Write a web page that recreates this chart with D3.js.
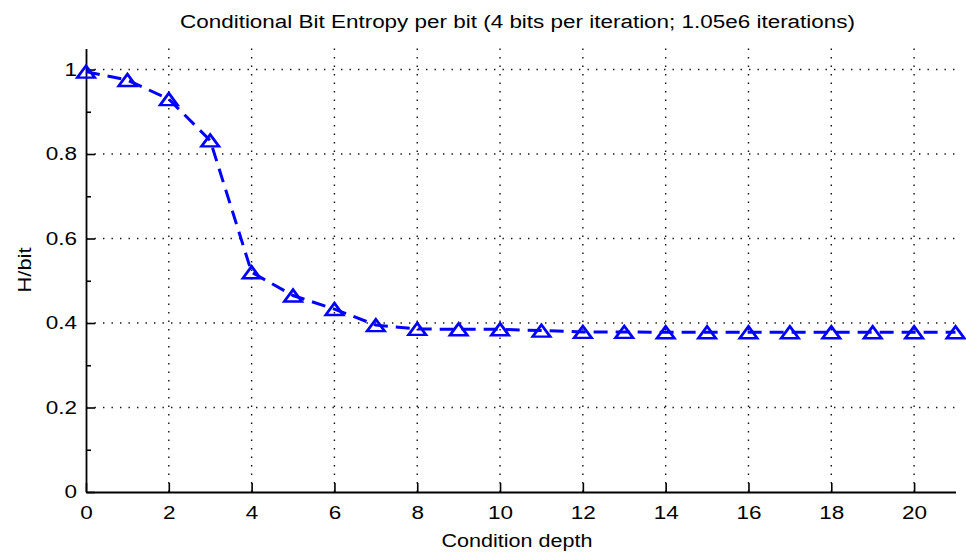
<!DOCTYPE html>
<html>
<head>
<meta charset="utf-8">
<script src="https://cdn.jsdelivr.net/npm/d3@7"></script>
<style>
  html, body { margin: 0; padding: 0; background: #fff; }
  svg { display: block; }
  text { font-family: "Liberation Sans", Arial, Helvetica, sans-serif; fill: #000; }
</style>
</head>
<body>
<svg id="chart" width="966" height="552"></svg>
<script>
// ---- data ----
const depths = [0,1,2,3,4,5,6,7,8,9,10,11,12,13,14,15,16,17,18,19,20,21];
const entropy = [0.995,0.975,0.93,0.832,0.52,0.465,0.433,0.395,0.386,0.385,0.385,0.382,0.379,0.379,0.378,0.378,0.378,0.378,0.378,0.378,0.378,0.378];
const xTicks = [0,2,4,6,8,10,12,14,16,18,20];
const yTicks = [0,0.2,0.4,0.6,0.8,1];
const yMinorTicks = [0.1,0.3,0.5,0.7,0.9];
const titleText = "Conditional Bit Entropy per bit (4 bits per iteration; 1.05e6 iterations)";
const xLabel = "Condition depth";
const yLabel = "H/bit";

// ---- layout ----
const svg = d3.select("#chart");
const mLeft = 86, mRight = 955.5, mBottom = 492, mTop = 48.4;
const x = d3.scaleLinear().domain([0, 21]).range([mLeft, mRight]);
const y = d3.scaleLinear().domain([0, 1.05]).range([mBottom, mTop]);
const textColor = "#1a1a1a";

// grid
const grid = svg.append("g").attr("stroke", "#111").attr("stroke-width", 1.4)
  .attr("stroke-dasharray", "1.4,7.1");
grid.selectAll("line.v").data(xTicks.filter(d => d > 0)).join("line")
  .attr("x1", d => x(d)).attr("x2", d => x(d))
  .attr("y1", mBottom).attr("y2", mTop);
grid.selectAll("line.h").data(yTicks.filter(d => d > 0)).join("line")
  .attr("x1", mLeft).attr("x2", mRight)
  .attr("y1", d => y(d)).attr("y2", d => y(d));

// axes
const fs = 18;
const xAxis = svg.append("g").attr("transform", `translate(0,${mBottom})`)
  .call(d3.axisBottom(x).tickValues(xTicks).tickSizeInner(-9).tickSizeOuter(0).tickPadding(14).tickFormat(d3.format("d")));
const yAxis = svg.append("g").attr("transform", `translate(${mLeft},0)`)
  .call(d3.axisLeft(y).tickValues(yTicks).tickSizeInner(-9).tickSizeOuter(0).tickPadding(9).tickFormat(d3.format("~g")));
svg.append("g").attr("transform", `translate(${mLeft},0)`)
  .call(d3.axisLeft(y).tickValues(yMinorTicks).tickSizeInner(-5).tickSizeOuter(0).tickFormat(""))
  .call(g => g.select(".domain").remove());
svg.selectAll(".domain").attr("stroke", "#000").attr("stroke-width", 1.8);
svg.selectAll(".tick line").attr("stroke", "#000").attr("stroke-width", 1.6);
[xAxis, yAxis].forEach(g => g.selectAll("text")
  .attr("font-size", fs).attr("font-family", "Liberation Sans, Arial, sans-serif").attr("fill", textColor)
  .each(function() {
    const w = this.getComputedTextLength();
    d3.select(this).attr("textLength", w * 1.25).attr("lengthAdjust", "spacingAndGlyphs");
  }));

// line
const line = d3.line().x((d, i) => x(depths[i])).y(d => y(d));
svg.append("path").datum(entropy)
  .attr("fill", "none").attr("stroke", "#0000ff").attr("stroke-width", 3)
  .attr("stroke-dasharray", "14,8").attr("d", line);

// markers (upward triangles)
const tri = d3.symbol().type(d3.symbolTriangle).size(100);
svg.append("g").selectAll("path").data(entropy).join("path")
  .attr("transform", (d, i) => `translate(${x(depths[i])},${y(d) + 2}) scale(1.15,0.9)`)
  .attr("d", tri)
  .attr("fill", "none").attr("stroke", "#0000ff").attr("stroke-width", 2.6);

// titles
svg.append("text").attr("x", 517.5).attr("y", 28).attr("text-anchor", "middle")
  .attr("font-size", fs).attr("textLength", 675).attr("lengthAdjust", "spacingAndGlyphs")
  .attr("fill", textColor).text(titleText);
svg.append("text").attr("x", 517).attr("y", 547).attr("text-anchor", "middle")
  .attr("font-size", fs).attr("textLength", 151).attr("lengthAdjust", "spacingAndGlyphs")
  .attr("fill", textColor).text(xLabel);
svg.append("text").attr("transform", "translate(31,270) rotate(-90)").attr("text-anchor", "middle")
  .attr("font-size", fs).attr("textLength", 45).attr("lengthAdjust", "spacingAndGlyphs")
  .attr("fill", textColor).text(yLabel);
</script>
</body>
</html>
